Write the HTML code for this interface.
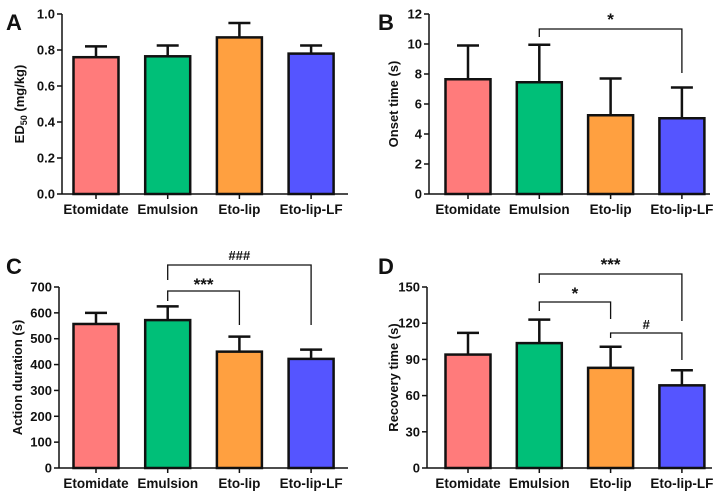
<!DOCTYPE html>
<html><head><meta charset="utf-8"><style>
html,body{margin:0;padding:0;background:#fff;}
svg text{font-family:"Liberation Sans",Arial,sans-serif;font-weight:bold;fill:#111;}
</style></head><body>
<svg id="c" width="724" height="495" viewBox="0 0 724 495" xmlns="http://www.w3.org/2000/svg"></svg>
<script>
const categories=["Etomidate","Emulsion","Eto-lip","Eto-lip-LF"];
const colors=["#FF7B7B","#00BF78","#FFA040","#5555FF"];
const edValues=[0.76,0.765,0.87,0.78];
const edErrors=[0.06,0.06,0.08,0.045];
const onsetValues=[7.65,7.45,5.25,5.05];
const onsetErrors=[2.25,2.5,2.45,2.05];
const durationValues=[557,572,450,422];
const durationErrors=[43,53,58,36];
const recoveryValues=[94,103.5,83,68.5];
const recoveryErrors=[18,19.5,17.5,12.5];
const edTicks=["0.0","0.2","0.4","0.6","0.8","1.0"];
const onsetTicks=["0","2","4","6","8","10","12"];
const durationTicks=["0","100","200","300","400","500","600","700"];
const recoveryTicks=["0","30","60","90","120","150"];

const svg=document.getElementById('c');
const NS="http://www.w3.org/2000/svg";
function mk(tag,attrs,parent,text){const e=document.createElementNS(NS,tag);for(const k in attrs)e.setAttribute(k,attrs[k]);if(text!==undefined)e.textContent=text;(parent||svg).appendChild(e);return e;}

const panels=[
 {id:"a",letter:"A",lx:6,ly:30,ax:62,ae:348,top:14,bot:194,c0:96,step:71.7,max:1.0,ticks:edTicks,vals:edValues,errs:edErrors,title:"ED50 (mg/kg)",tx:24,sub:true,
  br:[]},
 {id:"b",letter:"B",lx:378,ly:30,ax:429,ae:710,top:14,bot:194,c0:468,step:71.3,max:12,ticks:onsetTicks,vals:onsetValues,errs:onsetErrors,title:"Onset time (s)",tx:398,
  br:[{i:1,j:3,y:29,l:37,r:73,t:"*",ty:25,fs:17}]},
 {id:"c",letter:"C",lx:6,ly:274,ax:59,ae:348,top:287,bot:468,c0:96,step:71.7,max:700,ticks:durationTicks,vals:durationValues,errs:durationErrors,title:"Action duration (s)",tx:22,
  br:[{i:1,j:3,y:265,l:280,r:325,t:"###",ty:260,fs:13,norm:true},{i:1,j:2,y:291,l:301,r:325,t:"***",ty:290,fs:17}]},
 {id:"d",letter:"D",lx:378,ly:274,ax:427,ae:712,top:287,bot:468,c0:468,step:71.3,max:150,ticks:recoveryTicks,vals:recoveryValues,errs:recoveryErrors,title:"Recovery time (s)",tx:398,
  br:[{i:1,j:3,y:274,l:283,r:321,t:"***",ty:270,fs:17},{i:1,j:2,y:302,l:311,r:319,t:"*",ty:299,fs:17},{i:2,j:3,y:333,l:338,r:360,t:"#",ty:329,fs:13,norm:true}]}
];

panels.forEach(p=>{
 const g=mk('g',{});
 
 
 const L=mk('text',{x:p.lx,y:p.ly,'font-size':22},g,p.letter);
 
 
 const ys=v=>p.bot-(v/p.max)*(p.bot-p.top);
 const xs=i=>p.c0+i*p.step;
 const ya=mk('g',{},g);
 
 
 mk('line',{x1:p.ax,y1:p.top,x2:p.ax,y2:p.bot,stroke:'#111','stroke-width':1.5},ya);
 p.ticks.forEach((t,k)=>{
  const v=p.max*k/(p.ticks.length-1);const y=ys(v);
  mk('line',{x1:p.ax-5,y1:y,x2:p.ax,y2:y,stroke:'#111','stroke-width':1.5},ya);
  const tt=mk('text',{x:p.ax-7,y:y+4.5,'font-size':13,'text-anchor':'end'},ya,t);
  
  
 });
 const yt=mk('text',{transform:`translate(${p.tx},${(p.top+p.bot)/2}) rotate(-90)`,'font-size':13,'text-anchor':'middle'},g);
 
 
 if(p.sub){yt.textContent='ED';mk('tspan',{'font-size':9,dy:3},yt,'50');mk('tspan',{dy:-3},yt,' (mg/kg)');}
 else yt.textContent=p.title;
 p.vals.forEach((v,i)=>{
  const cx=xs(i),w=45,e=p.errs[i];
  mk('line',{x1:cx,y1:ys(v),x2:cx,y2:ys(v+e),stroke:'#111','stroke-width':2.5},g);
  mk('line',{x1:cx-11,y1:ys(v+e),x2:cx+11,y2:ys(v+e),stroke:'#111','stroke-width':2.5},g);
  const r=mk('rect',{x:cx-w/2,y:ys(v),width:w,height:p.bot-ys(v),fill:colors[i],stroke:'#111','stroke-width':2.5},g);
  
  
 });
 const xa=mk('g',{},g);
 
 
 mk('line',{x1:p.ax,y1:p.bot,x2:p.ae,y2:p.bot,stroke:'#111','stroke-width':1.5},xa);
 categories.forEach((c,i)=>{
  mk('line',{x1:xs(i),y1:p.bot,x2:xs(i),y2:p.bot+5,stroke:'#111','stroke-width':1.5},xa);
  const t=mk('text',{x:xs(i),y:p.bot+20,'font-size':13.5,'text-anchor':'middle'},xa,c);
  
  
 });
 p.br.forEach(b=>{
  const bg=mk('g',{},g);
  
  
  const x1=xs(b.i),x2=xs(b.j);
  mk('polyline',{points:`${x1},${b.l} ${x1},${b.y} ${x2},${b.y} ${x2},${b.r}`,fill:'none',stroke:'#111','stroke-width':1.3},bg);
  const t=mk('text',{x:(x1+x2)/2,y:b.ty,'font-size':b.fs,'text-anchor':'middle'},bg,b.t);
  if(b.norm)t.setAttribute('font-weight','normal');
 });
});
</script>
</body></html>
